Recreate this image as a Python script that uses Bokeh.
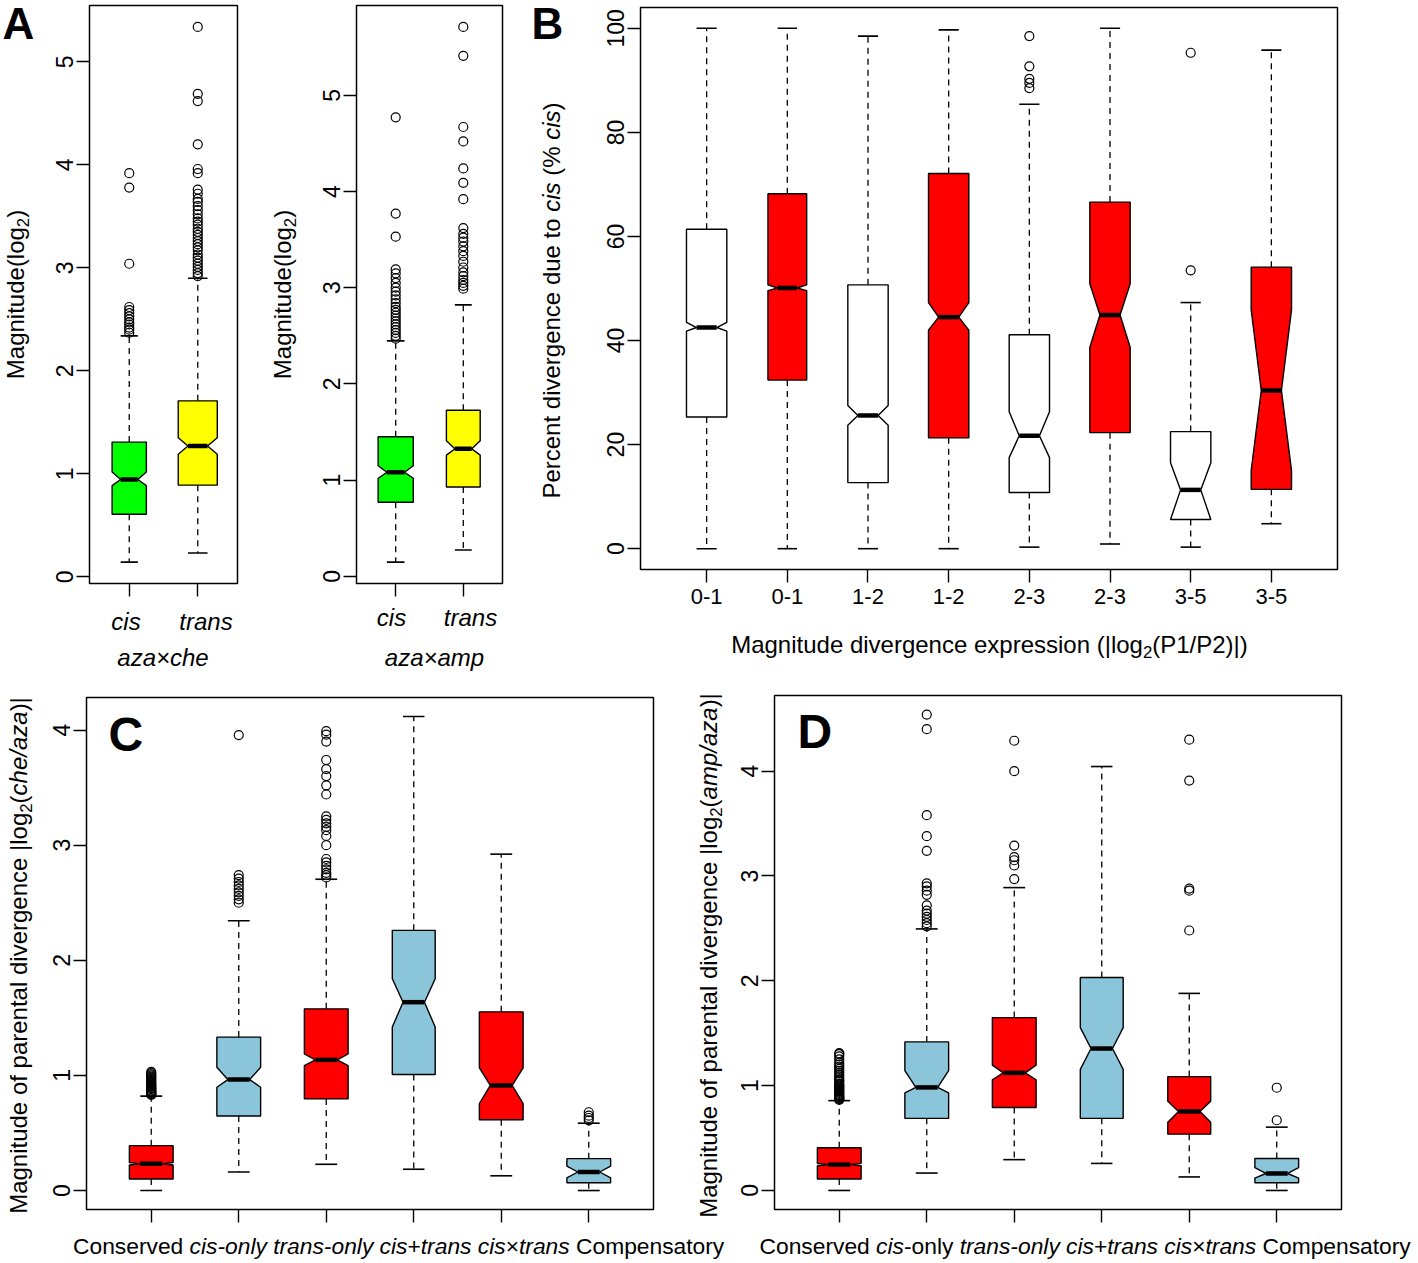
import math
from bokeh.plotting import figure
from bokeh.models import Label, FixedTicker, Range1d, BoxAnnotation
from bokeh.layouts import row, column
from bokeh.embed import file_html
from bokeh.resources import INLINE

FONT = "Liberation Sans"

# ---------------- data ----------------
# Panel A (left): aza x che
a1_low  = [0.143, 0.232]
a1_q1   = [0.608, 0.890]
a1_med  = [0.945, 1.270]
a1_q3   = [1.308, 1.709]
a1_high = [2.340, 2.900]
a1_nlo  = [0.886, 1.190]
a1_nhi  = [1.017, 1.350]
a1_width = [0.50, 0.57]
a1_out_cis = [2.37, 2.40, 2.42, 2.45, 2.47, 2.50, 2.53, 2.56, 2.59, 2.62, 3.04, 3.78, 3.92]
a1_out_trans = [2.92, 2.95, 2.98, 3.01, 3.04, 3.07, 3.10, 3.13, 3.17, 3.20, 3.23, 3.26, 3.29,
                3.32, 3.35, 3.38, 3.42, 3.45, 3.48, 3.52, 3.56, 3.60, 3.64, 3.67, 3.72, 3.76,
                3.92, 3.96, 4.20, 4.62, 4.69, 5.34]

# Panel A (right): aza x amp
a2_low  = [0.149, 0.275]
a2_q1   = [0.771, 0.929]
a2_med  = [1.082, 1.326]
a2_q3   = [1.452, 1.727]
a2_high = [2.448, 2.822]
a2_nlo  = [1.020, 1.260]
a2_nhi  = [1.150, 1.410]
a2_width = [0.52, 0.50]
a2_out_cis = [2.47, 2.50, 2.53, 2.56, 2.59, 2.62, 2.65, 2.68, 2.71, 2.74, 2.77, 2.80, 2.84,
              2.88, 2.92, 2.96, 3.00, 3.05, 3.10, 3.15, 3.19, 3.53, 3.77, 4.77]
a2_out_trans = [2.99, 3.02, 3.05, 3.08, 3.12, 3.16, 3.21, 3.27, 3.33, 3.38, 3.43, 3.48, 3.52,
                3.56, 3.62, 3.92, 4.09, 4.24, 4.52, 4.67, 5.41, 5.71]
a_cats = ["cis", "trans"]

# Panel B: percent divergence due to cis
b_cats = ["0-1", "0-1", "1-2", "1-2", "2-3", "2-3", "3-5", "3-5"]
b_low  = [0.0, 0.0, 0.0, 0.0, 0.3, 0.9, 0.3, 4.8]
b_q1   = [25.3, 32.4, 12.7, 21.3, 10.8, 22.3, 5.6, 11.4]
b_med  = [42.5, 50.1, 25.6, 44.5, 21.7, 44.9, 11.3, 30.4]
b_q3   = [61.4, 68.2, 50.7, 72.1, 41.1, 66.6, 22.5, 54.1]
b_high = [100.0, 100.0, 98.5, 99.7, 85.4, 100.0, 47.3, 95.8]
b_nlo  = [41.8, 49.6, 23.7, 42.0, 17.5, 38.7, 5.6, 15.0]
b_nhi  = [43.5, 50.7, 27.5, 47.3, 26.3, 50.9, 16.5, 45.9]
b_width = [0.50, 0.48, 0.50, 0.50, 0.50, 0.50, 0.50, 0.50]
b_out = [[], [], [], [], [88.5, 89.5, 90.3, 92.7, 98.5], [], [53.5, 95.3], []]

# Panel C: |log2(che/aza)|
cd_cats = ["Conserved", "cis-only", "trans-only", "cis+trans", "cis\u00d7trans", "Compensatory"]
c_low  = [0.000, 0.161, 0.228, 0.185, 0.128, 0.000]
c_q1   = [0.100, 0.648, 0.796, 1.008, 0.615, 0.067]
c_med  = [0.232, 0.964, 1.135, 1.636, 0.913, 0.161]
c_q3   = [0.390, 1.333, 1.578, 2.260, 1.552, 0.277]
c_high = [0.820, 2.344, 2.704, 4.118, 2.922, 0.585]
c_nlo  = [0.222, 0.897, 1.085, 1.420, 0.756, 0.111]
c_nhi  = [0.244, 1.071, 1.186, 1.840, 1.065, 0.212]
c_width = [0.50, 0.50, 0.50, 0.49, 0.50, 0.50]
c_out = [
    [0.83, 0.835, 0.84, 0.845, 0.85, 0.855, 0.86, 0.865, 0.87, 0.88, 0.885, 0.89, 0.90, 0.905,
     0.91, 0.92, 0.93, 0.94, 0.95, 0.96, 0.97, 0.98, 0.99, 1.00, 1.01, 1.02, 1.03],
    [2.50, 2.53, 2.56, 2.59, 2.62, 2.65, 2.68, 2.71, 2.74, 3.956],
    [2.72, 2.74, 2.76, 2.79, 2.82, 2.85, 2.88, 3.00, 3.08, 3.13, 3.16, 3.19, 3.22, 3.25,
     3.44, 3.52, 3.60, 3.66, 3.74, 3.90, 3.96, 3.99],
    [],
    [],
    [0.61, 0.63, 0.65, 0.68],
]

# Panel D: |log2(amp/aza)|
d_low  = [0.000, 0.166, 0.294, 0.258, 0.129, 0.000]
d_q1   = [0.110, 0.688, 0.791, 0.688, 0.537, 0.074]
d_med  = [0.247, 0.983, 1.122, 1.354, 0.754, 0.162]
d_q3   = [0.408, 1.417, 1.649, 2.031, 1.086, 0.305]
d_high = [0.857, 2.495, 2.889, 4.044, 1.880, 0.604]
d_nlo  = [0.236, 0.931, 1.056, 1.155, 0.651, 0.118]
d_nhi  = [0.258, 1.144, 1.196, 1.553, 0.850, 0.217]
d_width = [0.50, 0.50, 0.50, 0.49, 0.49, 0.50]
d_out = [
    [0.865, 0.87, 0.875, 0.88, 0.89, 0.895, 0.90, 0.91, 0.92, 0.93, 0.94, 0.95, 0.96, 0.97,
     0.98, 0.99, 1.00, 1.01, 1.02, 1.04, 1.05, 1.06, 1.08, 1.10, 1.12, 1.14, 1.16, 1.18,
     1.20, 1.22, 1.25, 1.28, 1.30, 1.31],
    [2.52, 2.55, 2.58, 2.61, 2.64, 2.67, 2.72, 2.82, 2.86, 2.90, 2.93, 3.24, 3.38, 3.58, 4.40, 4.54],
    [2.97, 3.10, 3.15, 3.18, 3.29, 4.00, 4.29],
    [],
    [2.48, 2.86, 2.88, 3.91, 4.30],
    [0.67, 0.98],
]

GREEN, YELLOW, RED, WHITE, BLUE = "#00FF00", "#FFFF00", "#FF0000", "#FFFFFF", "#8AC5D9"

# ---------------- helpers ----------------
W = {' ': 278, '(': 333, ')': 333, '+': 584, '-': 333, '/': 278, '%': 889, '|': 260,
     '\u00d7': 584, 'A': 667, 'B': 667, 'C': 722, 'D': 722, 'M': 833, 'P': 667,
     'a': 556, 'b': 556, 'c': 500, 'd': 556, 'e': 556, 'f': 278, 'g': 556, 'h': 556,
     'i': 222, 'j': 222, 'k': 500, 'l': 222, 'm': 833, 'n': 556, 'o': 556, 'p': 556,
     'q': 556, 'r': 333, 's': 500, 't': 278, 'u': 556, 'v': 500, 'w': 722, 'x': 500,
     'y': 500, 'z': 500}


def tw(s, size):
    return sum(W.get(ch, 556) for ch in s) * size / 1000.0


def data_lims(n, lows, highs, outs):
    vals = list(lows) + list(highs) + [v for o in outs for v in o]
    lo, hi = min(vals), max(vals)
    pad = 0.04 * (hi - lo)
    xpad = 0.04 * n
    return (0.5 - xpad, n + 0.5 + xpad), (lo - pad, hi + pad)


def make_fig(X0, X1, Y0, Y1, FL, FR, FT, FB, xlim, ylim, xticks, yticks, xlabels=None):
    # the plotting frame fills the whole canvas; ranges are widened so that the
    # panel's own data limits land on the panel box [FL..FR] x [FT..FB]
    ux = (xlim[1] - xlim[0]) / (FR - FL)
    uy = (ylim[1] - ylim[0]) / (FB - FT)
    xr = Range1d(xlim[0] - (FL - X0) * ux, xlim[1] + (X1 - FR) * ux)
    yr = Range1d(ylim[0] - (Y1 - FB) * uy, ylim[1] + (FT - Y0) * uy)
    p = figure(width=X1 - X0, height=Y1 - Y0, min_border=0,
               min_border_left=0, min_border_right=0, min_border_top=0, min_border_bottom=0,
               x_range=xr, y_range=yr, output_backend="svg", toolbar_location=None, tools="")
    p.grid.visible = False
    p.outline_line_color = None
    p.background_fill_color = "white"
    p.border_fill_color = "white"
    p.add_layout(BoxAnnotation(left=xlim[0], right=xlim[1], bottom=ylim[0], top=ylim[1],
                               fill_alpha=0, line_color="black", line_alpha=1.0,
                               line_width=1.5, level="overlay"))
    for ax in p.axis:
        ax.axis_line_color = None
        ax.major_tick_out = 13
        ax.major_tick_in = 0
        ax.minor_tick_out = 0
        ax.minor_tick_in = 0
        ax.major_tick_line_width = 1.4
        ax.major_tick_line_color = "black"
        ax.major_label_text_font = FONT
        ax.major_label_text_font_size = "23px"
        ax.major_label_text_color = "black"
    p.yaxis.fixed_location = xlim[0]
    p.xaxis.fixed_location = ylim[0]
    p.yaxis.ticker = FixedTicker(ticks=yticks)
    p.yaxis.major_label_orientation = "vertical"
    p.yaxis.major_label_standoff = 3
    p.xaxis.ticker = FixedTicker(ticks=xticks)
    if xlabels is None:
        p.xaxis.major_label_overrides = {t: "" for t in xticks}
    else:
        p.xaxis.major_label_overrides = {t: l for t, l in zip(xticks, xlabels)}
        p.xaxis.major_label_text_font_size = "22px"
        p.xaxis.major_label_standoff = 6
    return p


def boxes(p, low, q1, med, q3, high, nlo, nhi, width, fills, outs):
    n = len(med)
    pos = list(range(1, n + 1))
    hw = [w / 2.0 for w in width]
    p.segment(x0=pos, y0=q3, x1=pos, y1=high, line_color="black", line_width=1.3, line_dash="6 5")
    p.segment(x0=pos, y0=q1, x1=pos, y1=low, line_color="black", line_width=1.3, line_dash="6 5")
    xs, ys = [], []
    for i in range(n):
        x, h = pos[i], hw[i]
        xs.append([x - h, x - h, x - h / 2, x - h, x - h, x + h, x + h, x + h / 2, x + h, x + h])
        ys.append([q1[i], nlo[i], med[i], nhi[i], q3[i], q3[i], nhi[i], med[i], nlo[i], q1[i]])
    p.patches(xs, ys, fill_color=fills, line_color="black", line_width=1.4)
    left = [pos[i] - hw[i] / 2 for i in range(n)]
    right = [pos[i] + hw[i] / 2 for i in range(n)]
    p.segment(x0=left, y0=med, x1=right, y1=med, line_color="black", line_width=4.5, line_cap="butt")
    p.segment(x0=left, y0=high, x1=right, y1=high, line_color="black", line_width=1.6)
    p.segment(x0=left, y0=low, x1=right, y1=low, line_color="black", line_width=1.6)
    ox = [pos[i] for i in range(n) for _ in outs[i]]
    oy = [v for i in range(n) for v in outs[i]]
    if ox:
        p.scatter(ox, oy, marker="circle", size=9, fill_color=None, line_color="black", line_width=1.2)


def put(p, X0, Y1, pieces, x, y, size, anchor="center", vertical=False):
    """Place a run of text pieces (text, style, is_subscript); x, y = visual centre in page px."""
    sizes = [size * 0.7 if sub else size for (_, _, sub) in pieces]
    widths = [tw(t, s) for (t, _, _), s in zip(pieces, sizes)]
    total = sum(widths)
    cum = -total / 2.0 if anchor == "center" else 0.0
    for (t, style, sub), s, w in zip(pieces, sizes, widths):
        lead = len(t) - len(t.lstrip(" "))
        txt = t.strip(" ")
        along = cum + tw(" " * lead, s)
        drop = 0.3 * size if sub else 0.0
        if vertical:
            bx = x - 0.05 * size + drop
            by = y - along
            ang = math.pi / 2
        else:
            bx = x + along
            by = y - 0.05 * size + drop
            ang = 0
        if txt:
            p.add_layout(Label(x=bx - X0, y=Y1 - by, x_units="screen", y_units="screen", text=txt,
                               text_font=FONT, text_font_size=f"{s:.1f}px", text_font_style=style,
                               text_color="black", text_align="left", text_baseline="alphabetic",
                               angle=ang))
        cum += w


N, I = "normal", "italic"
YLAB_A = [("Magnitude(log", N, False), ("2", N, True), (")", N, False)]

# ---------------- Panel A1 ----------------
A1 = dict(X0=0, X1=262, Y0=0, Y1=680, FL=89, FR=237, FT=5, FB=583)
xl, yl = data_lims(2, a1_low, a1_high, [a1_out_cis, a1_out_trans])
pa1 = make_fig(**A1, xlim=xl, ylim=yl, xticks=[1, 2], yticks=[0, 1, 2, 3, 4, 5])
boxes(pa1, a1_low, a1_q1, a1_med, a1_q3, a1_high, a1_nlo, a1_nhi, a1_width, [GREEN, YELLOW],
      [a1_out_cis, a1_out_trans])
put(pa1, 0, 680, [("A", "bold", False)], 2, 25, 44, anchor="left")
put(pa1, 0, 680, YLAB_A, 16, 294, 24, vertical=True)
put(pa1, 0, 680, [(a_cats[0], I, False)], 125.5, 622, 24)
put(pa1, 0, 680, [(a_cats[1], I, False)], 205.5, 622, 24)
put(pa1, 0, 680, [("aza\u00d7che", I, False)], 162.5, 658, 24)

# ---------------- Panel A2 ----------------
A2 = dict(X0=262, X1=520, Y0=0, Y1=680, FL=356, FR=502, FT=5, FB=583)
xl, yl = data_lims(2, a2_low, a2_high, [a2_out_cis, a2_out_trans])
pa2 = make_fig(**A2, xlim=xl, ylim=yl, xticks=[1, 2], yticks=[0, 1, 2, 3, 4, 5])
boxes(pa2, a2_low, a2_q1, a2_med, a2_q3, a2_high, a2_nlo, a2_nhi, a2_width, [GREEN, YELLOW],
      [a2_out_cis, a2_out_trans])
put(pa2, 262, 680, YLAB_A, 283, 294, 24, vertical=True)
put(pa2, 262, 680, [(a_cats[0], I, False)], 391, 618, 24)
put(pa2, 262, 680, [(a_cats[1], I, False)], 470, 618, 24)
put(pa2, 262, 680, [("aza\u00d7amp", I, False)], 434, 658, 24)

# ---------------- Panel B ----------------
B = dict(X0=520, X1=1418, Y0=0, Y1=680, FL=640, FR=1337, FT=7, FB=569)
xl, yl = data_lims(8, b_low, b_high, b_out)
pb = make_fig(**B, xlim=xl, ylim=yl, xticks=list(range(1, 9)), yticks=[0, 20, 40, 60, 80, 100],
              xlabels=b_cats)
boxes(pb, b_low, b_q1, b_med, b_q3, b_high, b_nlo, b_nhi, b_width,
      [WHITE, RED, WHITE, RED, WHITE, RED, WHITE, RED], b_out)
put(pb, 520, 680, [("B", "bold", False)], 531, 25, 44, anchor="left")
put(pb, 520, 680, [("Percent divergence due to ", N, False), ("cis", I, False), (" (% ", N, False),
                   ("cis", I, False), (")", N, False)], 552, 300, 24, vertical=True)
put(pb, 520, 680, [("Magnitude divergence expression (|log", N, False), ("2", N, True),
                   ("(P1/P2)|)", N, False)], 989, 645, 24)

# ---------------- Panel C ----------------
C = dict(X0=0, X1=728, Y0=680, Y1=1263, FL=86, FR=653, FT=697, FB=1209)
xl, yl = data_lims(6, c_low, c_high, c_out)
pc = make_fig(**C, xlim=xl, ylim=yl, xticks=list(range(1, 7)), yticks=[0, 1, 2, 3, 4])
boxes(pc, c_low, c_q1, c_med, c_q3, c_high, c_nlo, c_nhi, c_width,
      [RED, BLUE, RED, BLUE, RED, BLUE], c_out)
put(pc, 0, 1263, [("C", "bold", False)], 108, 736, 48, anchor="left")
put(pc, 0, 1263, [("Magnitude of parental divergence |log", N, False), ("2", N, True), ("(", N, False),
                  ("che/aza", I, False), (")|", N, False)], 19, 955, 24, vertical=True)
# y-axis title of panel D sits in the gutter between the two frames
put(pc, 0, 1263, [("Magnitude of parental divergence |log", N, False), ("2", N, True), ("(", N, False),
                  ("amp/aza", I, False), (")|", N, False)], 709, 955, 24, vertical=True)
put(pc, 0, 1263, [("Conserved ", N, False), ("cis-only", I, False), (" ", N, False),
                  ("trans-only", I, False), (" ", N, False), ("cis", I, False), ("+", N, False),
                  ("trans", I, False), (" ", N, False), ("cis", I, False), ("\u00d7", N, False),
                  ("trans", I, False), (" Compensatory", N, False)], 72.5, 1247, 22.8, anchor="left")

# ---------------- Panel D ----------------
D = dict(X0=728, X1=1418, Y0=680, Y1=1263, FL=774, FR=1341, FT=695, FB=1209)
xl, yl = data_lims(6, d_low, d_high, d_out)
pd_ = make_fig(**D, xlim=xl, ylim=yl, xticks=list(range(1, 7)), yticks=[0, 1, 2, 3, 4])
boxes(pd_, d_low, d_q1, d_med, d_q3, d_high, d_nlo, d_nhi, d_width,
      [RED, BLUE, RED, BLUE, RED, BLUE], d_out)
put(pd_, 728, 1263, [("D", "bold", False)], 797, 733, 48, anchor="left")
put(pd_, 728, 1263, [("Conserved ", N, False), ("cis", I, False), ("-only ", N, False),
                     ("trans-only", I, False), (" ", N, False), ("cis", I, False), ("+", N, False),
                     ("trans", I, False), (" ", N, False), ("cis", I, False), ("\u00d7", N, False),
                     ("trans", I, False), (" Compensatory", N, False)], 759, 1247, 22.8, anchor="left")

layout = column(row(pa1, pa2, pb), row(pc, pd_))
open("out.html", "w").write(file_html(layout, INLINE))
